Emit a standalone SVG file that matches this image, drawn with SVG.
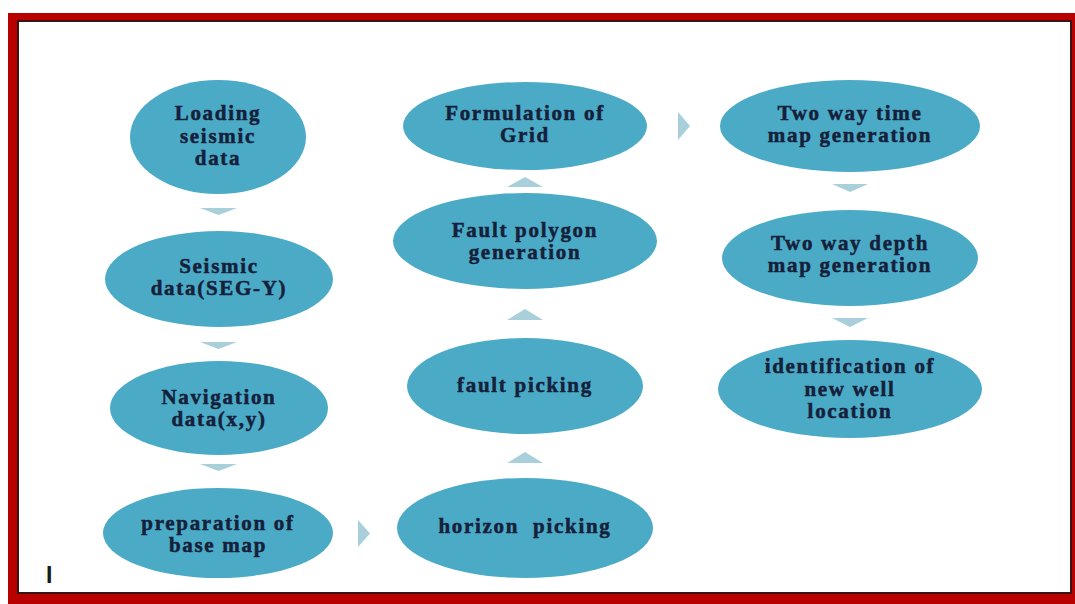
<svg xmlns="http://www.w3.org/2000/svg" width="1075" height="604" viewBox="0 0 1075 604">
  <style>
    .node ellipse { fill: #4babc6; }
    .node text { font-family: "Liberation Serif", "Times New Roman", serif; font-weight: bold; font-size: 21px; letter-spacing: 1.7px; fill: #15203a; stroke: #15203a; stroke-width: 0.5px; text-anchor: middle; white-space: pre; }
    .arrow { fill: #a9cfdb; }
  </style>
  <rect width="1075" height="604" fill="#ffffff"/>
  <!-- frame -->
  <path d="M8 13 H1080 V608 H8 Z M18 21 V593 H1071 V21 Z" fill="#b80000" fill-rule="evenodd"/>
  <rect x="18" y="21" width="1053" height="572" fill="none" stroke="#3a1414" stroke-width="2"/>

  <!-- connectors -->
  <g id="connectors">
    <polygon class="arrow" points="200,208 237,208 218.5,215"/>
    <polygon class="arrow" points="200,342 237,342 218.5,349"/>
    <polygon class="arrow" points="200,464 237,464 218.5,471"/>
    <polygon class="arrow" points="358,520 370,533.5 358,547"/>
    <polygon class="arrow" points="507,463 543,463 525,452"/>
    <polygon class="arrow" points="507,320 543,320 525,309"/>
    <polygon class="arrow" points="507,187 543,187 525,177"/>
    <polygon class="arrow" points="678,112 690,126 678,140"/>
    <polygon class="arrow" points="832,184 868,184 850,192"/>
    <polygon class="arrow" points="832,318 868,318 850,327"/>
  </g>

  <g id="loading" class="node">
    <ellipse cx="218" cy="137" rx="88" ry="57"/>
    <text x="218" y="120">Loading</text>
    <text x="218" y="143">seismic</text>
    <text x="218" y="165">data</text>
  </g>
  <g id="segy" class="node">
    <ellipse cx="219" cy="279" rx="114" ry="48"/>
    <text x="219" y="273">Seismic</text>
    <text x="219" y="295">data(SEG-Y)</text>
  </g>
  <g id="navigation" class="node">
    <ellipse cx="219" cy="408" rx="109" ry="47"/>
    <text x="219" y="404">Navigation</text>
    <text x="219" y="426">data(x,y)</text>
  </g>
  <g id="basemap" class="node">
    <ellipse cx="218" cy="533" rx="115" ry="45"/>
    <text x="218" y="530">preparation of</text>
    <text x="218" y="552">base map</text>
  </g>
  <g id="horizon" class="node">
    <ellipse cx="525" cy="528" rx="128" ry="50"/>
    <text x="525" y="533">horizon  picking</text>
  </g>
  <g id="fault-picking" class="node">
    <ellipse cx="525" cy="386" rx="118" ry="48"/>
    <text x="525" y="392">fault picking</text>
  </g>
  <g id="fault-polygon" class="node">
    <ellipse cx="525" cy="241" rx="132" ry="48"/>
    <text x="525" y="237">Fault polygon</text>
    <text x="525" y="259">generation</text>
  </g>
  <g id="grid" class="node">
    <ellipse cx="525" cy="126" rx="122" ry="44"/>
    <text x="525" y="120">Formulation of</text>
    <text x="525" y="142">Grid</text>
  </g>
  <g id="twt" class="node">
    <ellipse cx="850" cy="126" rx="130" ry="46"/>
    <text x="850" y="120">Two way time</text>
    <text x="850" y="142">map generation</text>
  </g>
  <g id="depth" class="node">
    <ellipse cx="850" cy="258" rx="128" ry="48"/>
    <text x="850" y="250">Two way depth</text>
    <text x="850" y="272">map generation</text>
  </g>
  <g id="well" class="node">
    <ellipse cx="850" cy="389" rx="132" ry="49"/>
    <text x="850" y="373">identification of</text>
    <text x="850" y="396">new well</text>
    <text x="850" y="418">location</text>
  </g>

  <text x="46" y="583" font-family="Liberation Sans, Arial, sans-serif" font-weight="bold" font-size="23" fill="#1a1a1a">I</text>
</svg>
